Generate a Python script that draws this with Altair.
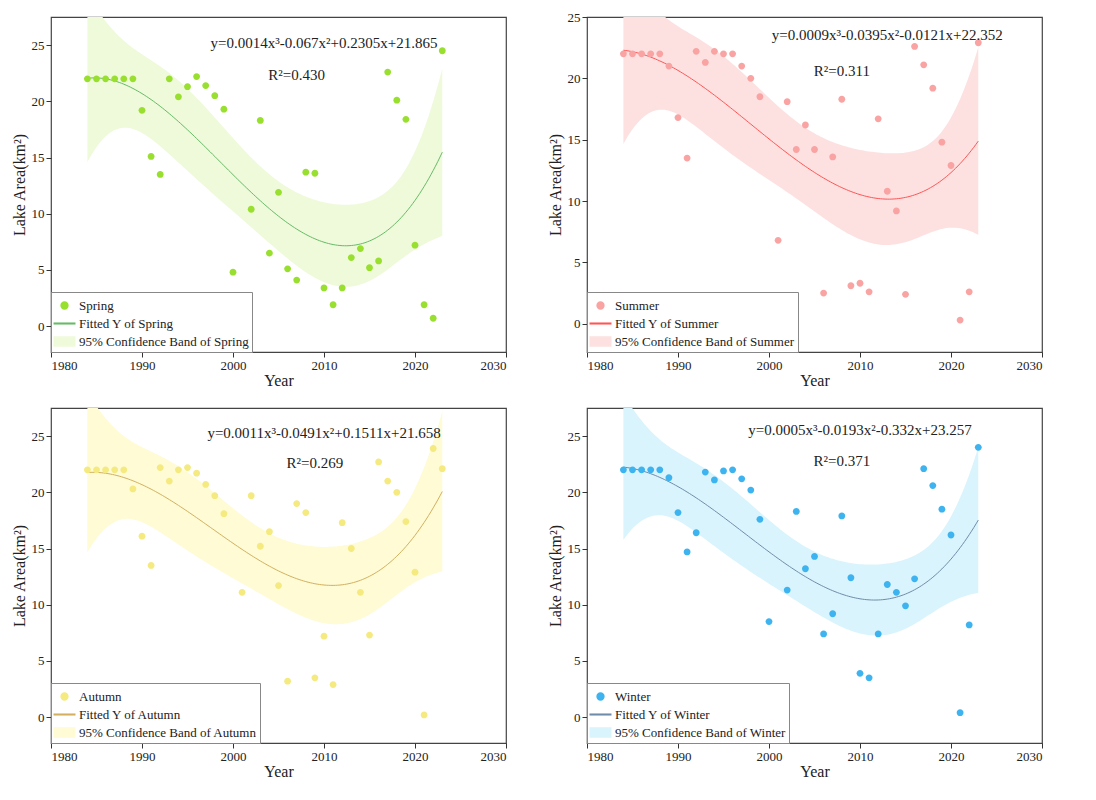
import altair as alt
import numpy as np
import pandas as pd

years = list(range(1984, 2024))

spring = [22, 22, 22, 22, 22, 22, 19.2, 15.1, 13.5, 22, 20.4, 21.3, 22.2, 21.4, 20.5, 19.3,
          4.8, 0.1, 10.4, 18.3, 6.5, 11.9, 5.1, 4.1, 13.7, 13.6, 3.4, 1.9, 3.4, 6.1, 6.9, 5.2,
          5.8, 22.6, 20.1, 18.4, 7.2, 1.9, 0.7, 24.5]
summer = [22, 22, 22, 22, 22, 21, 16.8, 13.5, 22.2, 21.3, 22.2, 22, 22, 21, 20, 18.5,
          1.7, 6.8, 18.1, 14.2, 16.2, 14.2, 2.5, 13.6, 18.3, 3.1, 3.3, 2.6, 16.7, 10.8, 9.2, 2.4,
          22.6, 21.1, 19.2, 14.8, 12.9, 0.3, 2.6, 22.9]
autumn = [22, 22, 22, 22, 22, 20.3, 16.1, 13.5, 22.2, 21, 22, 22.2, 21.7, 20.7, 19.7, 18.1,
          1.5, 11.1, 19.7, 15.2, 16.5, 11.7, 3.2, 19, 18.2, 3.5, 7.2, 2.9, 17.3, 15, 11.1, 7.3,
          22.7, 21, 20, 17.4, 12.9, 0.2, 23.9, 22.1]
winter = [22, 22, 22, 22, 22, 21.3, 18.2, 14.7, 16.4, 21.8, 21.1, 21.9, 22, 21.2, 20.2, 17.6,
          8.5, 1.1, 11.3, 18.3, 13.2, 14.3, 7.4, 9.2, 17.9, 12.4, 3.9, 3.5, 7.4, 11.8, 11.1, 9.9,
          12.3, 22.1, 20.6, 18.5, 16.2, 0.4, 8.2, 24]

seasons = ["Spring", "Summer", "Autumn", "Winter"]
values = [spring, summer, autumn, winter]
equations = ["y=0.0014x³-0.067x²+0.2305x+21.865", "y=0.0009x³-0.0395x²-0.0121x+22.352",
             "y=0.0011x³-0.0491x²+0.1511x+21.658", "y=0.0005x³-0.0193x²-0.332x+23.257"]
r2_texts = ["R²=0.430", "R²=0.311", "R²=0.269", "R²=0.371"]
eq_pos = [(2010, 25.2), (2013, 23.5), (2010, 25.3), (2010, 25.5)]
r2_pos = [(2007, 22.3), (2008, 20.6), (2009, 22.6), (2008, 22.8)]
y_top = [27.5, 25, 27.5, 27.5]

point_colors = ["#98df2f", "#f9a3a3", "#f5ea80", "#3db3f0"]
line_colors = ["#66bb66", "#ff5555", "#d2b060", "#6f8daa"]
band_colors = ["#effadb", "#fde1e1", "#fefbd5", "#d9f4fc"]

FONT = "Liberation Serif"
DOT = "M0,-0.35A0.35,0.35 0 1,1 0,0.35A0.35,0.35 0 1,1 0,-0.35Z"


def panel(i):
    name = seasons[i]
    y = np.array(values[i], dtype=float)
    t = np.array(years) - 1983.0
    X = np.vander(t, 4)
    coef, *_ = np.linalg.lstsq(X, y, rcond=None)
    resid = y - X @ coef
    s2 = resid @ resid / (len(y) - 4)
    cov = np.linalg.inv(X.T @ X) * s2
    grid = np.linspace(1, 40, 157)
    G = np.vander(grid, 4)
    fit = G @ coef
    se = np.sqrt(np.einsum("ij,jk,ik->i", G, cov, G))
    tval = 2.028

    k_pt, k_ln, k_bd = name, f"Fitted Y of {name}", f"95% Confidence Band of {name}"
    pts = pd.DataFrame({"Year": years, "Area": y, "kind": k_pt})
    crv = pd.DataFrame({"Year": grid + 1983, "Fit": fit, "lo": fit - tval * se,
                        "hi": fit + tval * se})
    crv_line = crv.assign(kind=k_ln)
    crv_band = crv.assign(kind=k_bd)

    dom = [k_pt, k_ln, k_bd]
    color = alt.Color("kind:N", scale=alt.Scale(domain=dom, range=[point_colors[i], line_colors[i], band_colors[i]]),
                      legend=alt.Legend(title=None, orient="bottom-left", fillColor="white",
                                        strokeColor="#888", padding=3, labelFont=FONT,
                                        labelFontSize=13, labelColor="#222", symbolSize=380,
                                        labelLimit=0, rowPadding=0, offset=0))
    shape = alt.Shape("kind:N", scale=alt.Scale(domain=dom, range=[
        DOT, "M-1.05,-0.03L1.05,-0.03L1.05,0.03L-1.05,0.03Z", "M-1.05,-0.45L1.05,-0.45L1.05,0.45L-1.05,0.45Z"]),
        legend=None)

    xs = alt.X("Year:Q", scale=alt.Scale(domain=[1980, 2030]),
               axis=alt.Axis(values=[1980, 1990, 2000, 2010, 2020, 2030], format="d", title="Year",
                             titlePadding=0))
    ys = alt.Scale(domain=[-2.3, y_top[i]], nice=False)

    band = alt.Chart(crv_band).mark_area(clip=True, opacity=1).encode(
        x=xs, y=alt.Y("lo:Q", scale=ys, title="Lake Area(km²)",
                      axis=alt.Axis(values=[0, 5, 10, 15, 20, 25])),
        y2="hi:Q", color=color)
    line = alt.Chart(crv_line).mark_line(strokeWidth=1, clip=True).encode(
        x="Year:Q", y="Fit:Q", color=color)
    dots = alt.Chart(pts).mark_point(filled=True, size=380, opacity=1).encode(
        x="Year:Q", y="Area:Q", color=color, shape=shape)

    ann = pd.DataFrame({"Year": [eq_pos[i][0], r2_pos[i][0]], "Area": [eq_pos[i][1], r2_pos[i][1]],
                        "label": [equations[i], r2_texts[i]]})
    txt = alt.Chart(ann).mark_text(font=FONT, fontSize=15, color="#222").encode(
        x="Year:Q", y="Area:Q", text="label:N")

    return (band + line + dots + txt).properties(width=455, height=335).resolve_scale(
        color="shared", shape="shared")


top = alt.hconcat(panel(0), panel(1), spacing=38).resolve_scale(color="independent", shape="independent")
bottom = alt.hconcat(panel(2), panel(3), spacing=38).resolve_scale(color="independent", shape="independent")
chart = alt.vconcat(top, bottom, spacing=18).resolve_scale(
    color="independent", shape="independent"
).configure(background="white", padding=2, font=FONT).configure_view(
    stroke="#444", strokeWidth=1.2
).configure_axis(
    grid=False, domain=False, tickColor="#333", labelFont=FONT, titleFont=FONT,
    labelFontSize=13, titleFontSize=16, titleFontWeight="normal", labelColor="#222",
    titleColor="#222", tickSize=5
).configure_legend(labelFont=FONT)

chart.save("out.html", embed_options={"renderer": "svg", "actions": False})
